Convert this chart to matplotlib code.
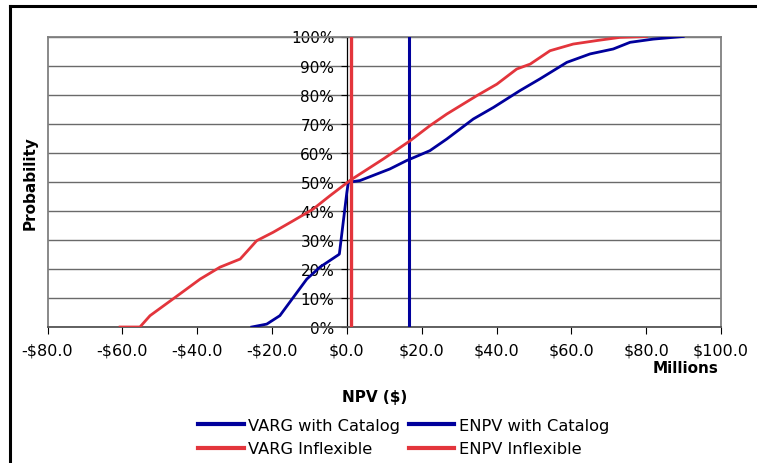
import numpy as np
import matplotlib
matplotlib.use("Agg")
import matplotlib.pyplot as plt
from matplotlib.lines import Line2D
from matplotlib.ticker import FuncFormatter

# cumulative NPV curves (millions $, probability %)
varg_cat_x = [-25.4, -21.4, -17.9, -14.3, -10.7, -7.2, -2.3, -2.0, 0.0, 0.4, 3.5, 11.5, 16.0,
              22.2, 26.7, 33.8, 39.2, 46.3, 51.6, 58.8, 65.0, 71.2, 75.7, 81.9, 89.9]
varg_cat_y = [0, 1, 3.9, 10.2, 16.5, 20.6, 24.8, 25.1, 46.3, 49.8, 50.4, 54.4, 57.3,
              60.7, 64.7, 71.6, 75.6, 81.4, 85.4, 91.1, 94.0, 95.7, 98.0, 99.1, 100]

varg_inf_x = [-60.6, -55.3, -52.6, -44.6, -39.2, -33.9, -28.5, -24.1, -19.7, -14.3, -9.0, -4.5,
              0.9, 9.7, 16.9, 22.2, 26.7, 34.7, 40.1, 45.4, 49.0, 54.3, 60.5, 66.8, 73.0, 80.1]
varg_inf_y = [0, 0, 3.9, 11.4, 16.5, 20.6, 23.4, 29.7, 32.6, 36.6, 40.6, 45.2,
              50.5, 57.8, 64.1, 69.3, 73.3, 79.6, 83.6, 88.8, 90.5, 95.1, 97.4, 98.6, 99.7, 100]

enpv_cat = 16.6
enpv_inf = 1.2

x_ticks = np.arange(-80, 101, 20)
y_ticks = np.arange(0, 101, 10)

blue = "#00009c"
red = "#e3353c"

plt.rcParams["font.family"] = "DejaVu Sans"
W, H = 757, 464
fig = plt.figure(figsize=(W / 100, H / 100), dpi=100)
ax = fig.add_axes([47.5 / W, 1 - 328 / H, (721 - 47.5) / W, (328 - 37.5) / H])

ax.set_xlim(-80, 100)
ax.set_ylim(0, 100)

for y in y_ticks:
    ax.axhline(y, color="#6a6a6a", lw=1.0, zorder=1)

l1, = ax.plot(varg_cat_x, varg_cat_y, color=blue, lw=2.0, zorder=3)
l2, = ax.plot([enpv_cat, enpv_cat], [0, 100], color=blue, lw=2.2, zorder=3)
l3, = ax.plot(varg_inf_x, varg_inf_y, color=red, lw=2.0, zorder=3)
l4, = ax.plot([enpv_inf, enpv_inf], [0, 100], color=red, lw=2.4, zorder=4)

# y axis crosses at 0
ax.spines["left"].set_position(("data", 0))
ax.spines["left"].set_color("black")
ax.spines["left"].set_linewidth(0.9)
ax.spines["left"].set_zorder(2)
for s in ["top", "right"]:
    ax.spines[s].set_color("#808080")
    ax.spines[s].set_linewidth(1.3)
ax.spines["bottom"].set_color("#555555")
ax.spines["bottom"].set_linewidth(1.3)
ax.axvline(-80, color="#808080", lw=1.3, clip_on=False)

ax.set_yticks(y_ticks)
ax.yaxis.set_major_formatter(FuncFormatter(lambda v, p: "%d%%" % v))
ax.tick_params(axis="y", length=4, direction="out", labelsize=11, pad=5, colors="black")
ax.set_xticks(x_ticks)
ax.xaxis.set_major_formatter(FuncFormatter(lambda v, p: ("-$%.1f" % -v) if v < 0 else "$%.1f" % v))
ax.tick_params(axis="x", length=5, direction="out", labelsize=11.5, pad=6, colors="black")

fig.text(718 / W, 1 - 369 / H, "Millions", ha="right", va="center", fontsize=11, fontweight="bold")
fig.text(375 / W, 1 - 398 / H, "NPV ($)", ha="center", va="center", fontsize=11, fontweight="bold")
fig.text(30 / W, 1 - 183 / H, "Probability", ha="center", va="center", rotation=90,
         fontsize=11, fontweight="bold")

# legend fills column by column, so order to read row by row
handles = [l1, l3, l2, l4]
labels = ["VARG with Catalog", "VARG Inflexible", "ENPV with Catalog", "ENPV Inflexible"]
leg = fig.legend(handles, labels, ncol=2, loc="upper left", bbox_to_anchor=(190 / W, 1 - 411 / H),
                 frameon=False, fontsize=11.7, handlelength=2.8, handletextpad=0.3,
                 columnspacing=0.5, labelspacing=0.5, borderpad=0)
for h in leg.legend_handles:
    h.set_linewidth(3)

# outer chart border
fig.add_artist(Line2D([9.5 / W, 9.5 / W], [0, 1 - 7 / H], color="black", lw=2.2))
fig.add_artist(Line2D([9.5 / W, 1], [1 - 7 / H, 1 - 7 / H], color="black", lw=2.2))

fig.savefig("out.png", dpi=100)
